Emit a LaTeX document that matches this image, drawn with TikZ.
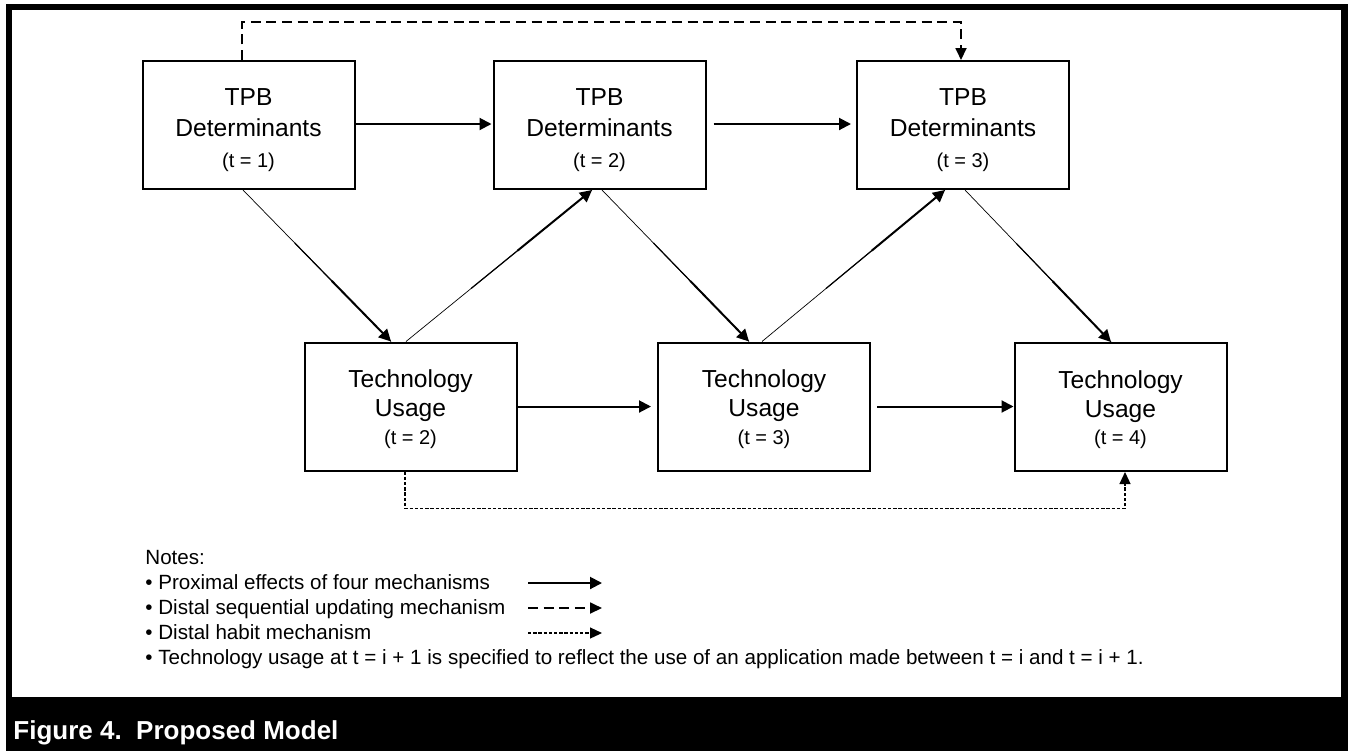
\documentclass[tikz,border=0pt]{standalone}
\usepackage{fontspec}
\setmainfont{Liberation Sans}
\usetikzlibrary{arrows.meta,calc}
\begin{document}
\begin{tikzpicture}[x=0.5pt,y=-0.5pt,
  box/.style={draw,line width=1pt,minimum width=106pt,minimum height=64pt,inner sep=0pt},
  tpbtext/.style={anchor=north,inner sep=0pt,align=center,font=\fontsize{12.3}{15.5}\selectfont},
  tutext/.style={anchor=north,inner sep=0pt,align=center,font=\fontsize{12.3}{14.5}\selectfont},
  tip/.style={-{Triangle[length=6pt,width=6pt]}},
  prox/.style={tip,line width=1pt},
  thinpart/.style={line width=0.35pt},
  thickpart/.style={tip,line width=1pt},
  seq/.style={line width=0.9pt,dash pattern=on 5pt off 2.8pt,-{Triangle[length=6pt,width=5.5pt]}},
  habit/.style={line width=0.6pt,dash pattern=on 1.7pt off 0.9pt,-{Triangle[length=6pt,width=5.5pt]}},
  note/.style={anchor=west,inner sep=0pt,font=\fontsize{10.3}{12}\selectfont,text height=1.5ex,text depth=.3ex}
]
\useasboundingbox (0,0) rectangle (1348,751);
% frame
\fill[white] (0,0) rectangle (1348,751);
\fill[black] (6,4) rectangle (1348,751);
\fill[white] (12,10) rectangle (1341,697);
\node[anchor=west,inner sep=0pt,text=white,font=\bfseries\fontsize{13}{15}\selectfont] (cap) at (13,733) {Figure 4.\ \ Proposed Model};

% boxes
\node[box] (p1) at (248.5,125) {};
\node[box] (p2) at (599.5,125) {};
\node[box] (p3) at (963,125) {};
\node[box] (u2) at (410.5,406.5) {};
\node[box] (u3) at (764,406.5) {};
\node[box] (u4) at (1120.5,407) {};

% texts
\node[tpbtext] (p1t) at ($(p1.north)+(0,28)$) {TPB\\Determinants\\{\fontsize{10}{12}\selectfont (t = 1)}};
\node[tpbtext] (p2t) at ($(p2.north)+(0,28)$) {TPB\\Determinants\\{\fontsize{10}{12}\selectfont (t = 2)}};
\node[tpbtext] (p3t) at ($(p3.north)+(0,28)$) {TPB\\Determinants\\{\fontsize{10}{12}\selectfont (t = 3)}};
\node[tutext] (u2t) at ($(u2.north)+(0,28)$) {Technology\\Usage\\[-0.8pt]{\fontsize{10}{12}\selectfont (t = 2)}};
\node[tutext] (u3t) at ($(u3.north)+(0,28)$) {Technology\\Usage\\[-0.8pt]{\fontsize{10}{12}\selectfont (t = 3)}};
\node[tutext] (u4t) at ($(u4.north)+(0,28)$) {Technology\\Usage\\[-0.8pt]{\fontsize{10}{12}\selectfont (t = 4)}};

% horizontal arrows
\draw[prox] ($(p1.east)+(0,-1)$) -- ($(p2.west)+(-1,-1)$);
\draw[prox] ($(p2.east)+(7,-1)$) -- ($(p3.west)+(-5,-1)$);
\draw[prox] (u2.east) -- ($(u3.west)+(-6,0)$);
\draw[prox] ($(u3.east)+(6,0)$) -- (u4.west |- u3.east);

% diagonal arrows (thin start, heavier end)
\coordinate (d1a) at ($(p1.south)+(-5.5,0)$);
\coordinate (d1b) at ($(u2.north)+(-19.5,0)$);
\coordinate (d2a) at ($(u2.north)+(-4.5,0)$);
\coordinate (d2b) at ($(p2.south)+(-7.5,0)$);
\coordinate (d3a) at ($(p2.south)+(2.5,0)$);
\coordinate (d3b) at ($(u3.north)+(-15,0)$);
\coordinate (d4a) at ($(u3.north)+(-2,0)$);
\coordinate (d4b) at ($(p3.south)+(-18,0)$);
\coordinate (d5a) at ($(p3.south)+(2,0)$);
\coordinate (d5b) at ($(u4.north)+(-9.5,0)$);
\foreach \i in {1,...,5}{
  \draw[thinpart] (d\i a) -- (d\i b);
  \draw[line width=0.6pt] ($(d\i a)!0.35!(d\i b)$) -- ($(d\i a)!0.6!(d\i b)$);
  \draw[thickpart] ($(d\i a)!0.6!(d\i b)$) -- (d\i b);
}

% distal sequential updating
\draw[seq] ($(p1.north)+(-6.5,0)$) -- ++(0,-38) -| ($(p3.north)+(-2,0)$);
% distal habit
\draw[habit] ($(u2.south)+(-5.5,0)$) -- ++(0,37) -| ($(u4.south)+(4.5,0)$);

% notes
\node[note] (n0) at (145,558) {Notes:};
\node[note] (n1) at (145,583) {\textbullet\ Proximal effects of four mechanisms};
\node[note] (n2) at (145,608) {\textbullet\ Distal sequential updating mechanism};
\node[note] (n3) at (145,633) {\textbullet\ Distal habit mechanism};
\node[note] (n4) at (145,658) {\textbullet\ Technology usage at t = i + 1 is specified to reflect the use of an application made between t = i and t = i + 1.};
\coordinate (l1a) at (528,583); \coordinate (l1b) at (602,583);
\coordinate (l2a) at (528,608); \coordinate (l2b) at (602,608);
\coordinate (l3a) at (528,633); \coordinate (l3b) at (602,633);
\draw[prox] (l1a) -- (l1b);
\draw[seq] (l2a) -- (l2b);
\draw[habit] (l3a) -- (l3b);
\end{tikzpicture}
\end{document}
